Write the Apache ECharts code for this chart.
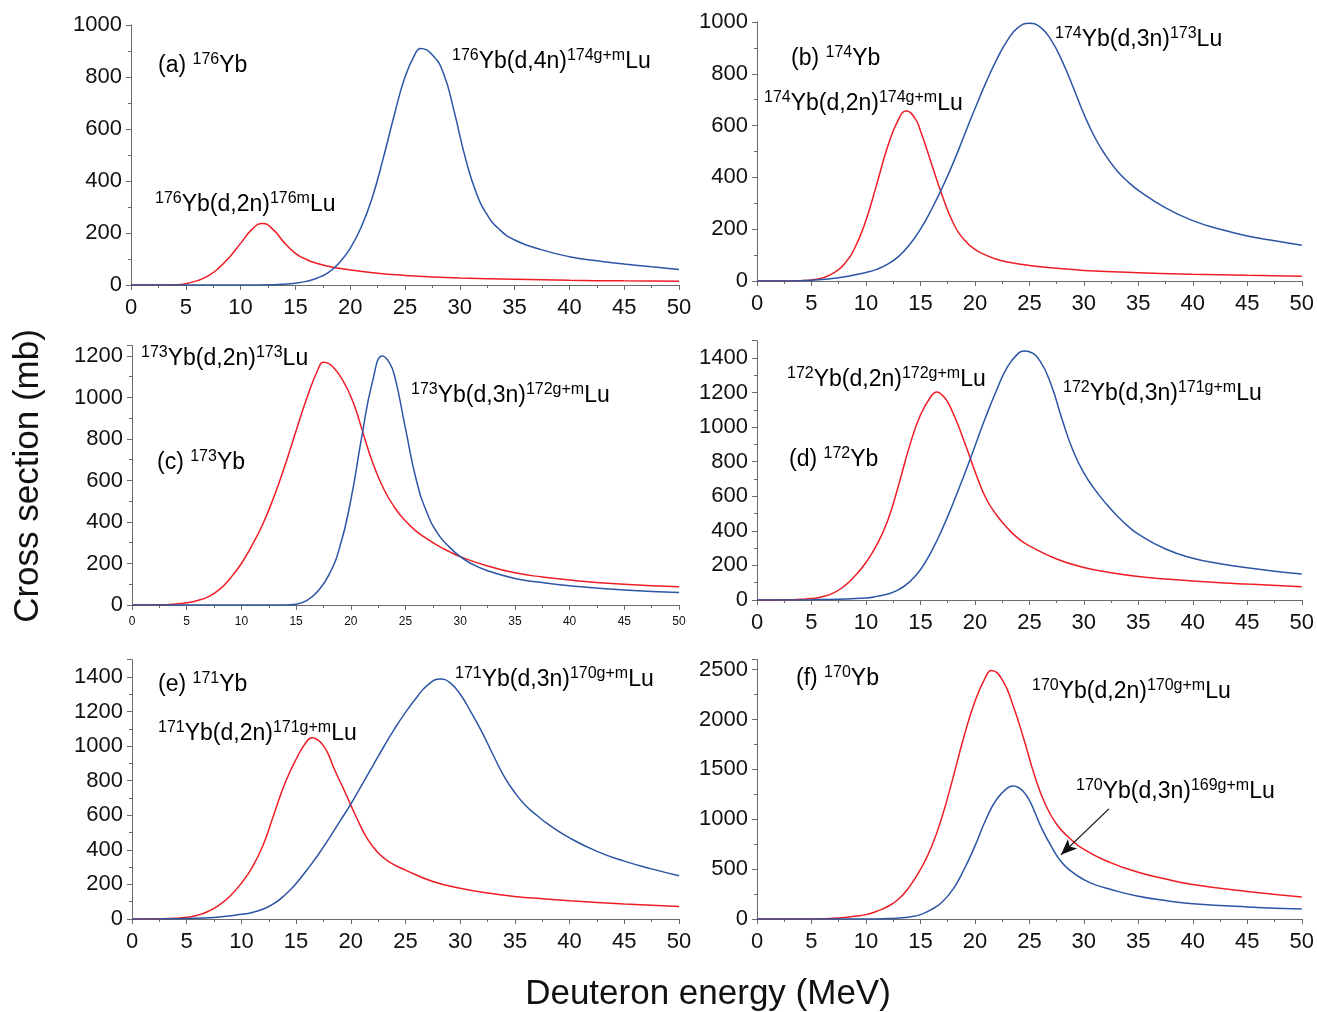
<!DOCTYPE html>
<html>
<head>
<meta charset="utf-8">
<title>Yb(d,xn)Lu excitation functions</title>
<script src="https://cdn.jsdelivr.net/npm/echarts@6/dist/echarts.min.js"></script>
<style>
  html, body { margin: 0; padding: 0; background: #fff; }
  #chart { width: 1317px; height: 1012px; }
</style>
</head>
<body>
<div id="chart"></div>
<script>
// Excitation functions [E (MeV), sigma (mb)] for deuteron reactions on Yb isotopes
const yb176_d2n = [[0,0],[2.5,0],[4,1],[5,5],[6,16],[7,34],[8,65],[9,108],[10,160],[11,212],[12,237],[13,212],[14,162],[15,122],[16,98],[17,83],[18,72],[19,64],[20,58],[22.5,45],[25,37],[27.5,31],[30,27],[35,22],[40,18],[45,16],[50,14]];
const yb176_d4n = [[0,0],[10,0],[13,1],[14,3],[15,7],[16,14],[17,27],[18,48],[19,85],[20,141],[21,222],[22,335],[23,485],[24,650],[25,800],[26,895],[26.4,910],[27.5,885],[28.5,815],[29.5,665],[30.5,490],[31.5,355],[32.5,270],[33.5,218],[35,173],[37.5,135],[40,109],[42.5,93],[45,81],[47.5,70],[50,60]];

const yb174_d2n = [[0,0],[3,0],[4,1],[5,4],[6,12],[7,30],[8,65],[9,130],[10,235],[11,375],[12,520],[13,625],[13.7,656],[14.5,628],[15,580],[16,455],[17,330],[18,225],[19,160],[20,122],[21,100],[22,84],[23,73],[25,60],[27.5,49],[30,41],[35,32],[40,26],[45,22],[50,18]];
const yb174_d3n = [[0,0],[3,0],[5,3],[7.5,13],[10,33],[11,45],[12,65],[13,95],[14,140],[15,200],[16,275],[17,360],[18,455],[19,560],[20,665],[21,765],[22,855],[23,930],[24,980],[25,995],[26,980],[27,930],[28,850],[29,750],[30,645],[31,555],[32,485],[33,428],[34,385],[35,350],[37.5,282],[40,233],[42.5,200],[45,174],[47.5,155],[50,138]];

const yb173_d2n = [[0,0],[2.5,1],[4,5],[5,11],[6,22],[7,40],[8,75],[9,130],[10,200],[11,290],[12,395],[13,525],[14,675],[15,840],[16,1000],[17,1135],[17.5,1170],[18,1163],[18.5,1140],[19,1105],[19.5,1060],[20,1005],[20.5,935],[21,850],[22,685],[23,560],[24,470],[25,405],[26,355],[27,318],[28,285],[29,257],[30,233],[32.5,188],[35,155],[37.5,135],[40,120],[45,100],[50,88]];
const yb173_d3n = [[0,0],[10,0],[14,0],[15,4],[16,22],[17,68],[18,145],[19,280],[20,505],[21,810],[22,1080],[22.9,1200],[23.5,1170],[24,1105],[25,850],[26,600],[27,440],[28,340],[29,280],[30,233],[31,200],[32.5,165],[35,128],[37.5,108],[40,93],[45,72],[50,60]];

const yb172_d2n = [[0,0],[2.5,1],[4,4],[5,8],[6,19],[7,40],[8,80],[9,140],[10,217],[11,320],[12,460],[13,665],[14,890],[15,1070],[16,1180],[16.5,1203],[17,1185],[17.5,1145],[18,1080],[18.5,1005],[19,920],[19.5,835],[20,745],[21,590],[22,490],[23,415],[24,355],[25,313],[27.5,237],[30,188],[32.5,158],[35,136],[37.5,122],[40,110],[45,92],[50,77]];
const yb172_d3n = [[0,0],[5,2],[7.5,5],[10,12],[11,21],[12,35],[13,60],[14,105],[15,175],[16,280],[17,410],[18,560],[19,720],[20,890],[21,1060],[22,1215],[23,1350],[24,1428],[24.5,1441],[25,1436],[26,1380],[27,1245],[28,1045],[29,865],[30,735],[31,640],[32,560],[33,490],[34,430],[35,381],[37.5,295],[40,242],[42.5,210],[45,187],[47.5,167],[50,150]];

const yb171_d2n = [[0,0],[2.5,1],[4,4],[5,10],[6,22],[7,45],[8,82],[9,135],[10,207],[11,300],[12,430],[13,610],[14,788],[15,924],[16,1030],[16.5,1048],[17,1035],[17.5,1003],[18,945],[18.5,866],[19.5,730],[20.5,590],[21.5,465],[22.5,383],[23.5,330],[25,283],[27.5,217],[30,178],[32.5,150],[35,130],[37.5,117],[40,106],[45,87],[50,72]];
const yb171_d3n = [[0,0],[2.5,1],[5,3],[7.5,9],[10,27],[11,38],[12,58],[13,90],[14,140],[15,205],[16,285],[17,370],[18,465],[19,565],[20,665],[21,775],[22,885],[23,995],[24,1100],[25,1195],[26,1280],[27,1352],[28.2,1388],[29,1370],[30,1300],[31,1195],[32,1080],[33,950],[34,827],[35,730],[36,655],[37,600],[38,550],[40,469],[42.5,391],[45,335],[47.5,290],[50,250]];

const yb170_d2n = [[0,0],[5,1],[7.5,10],[9,28],[10,44],[11,78],[12,125],[13,200],[14,325],[15,496],[16,720],[17,1030],[18,1420],[19,1830],[20,2180],[21,2430],[21.5,2490],[22.5,2400],[23.5,2140],[24.5,1800],[25.5,1430],[26.5,1140],[27.5,950],[28.5,830],[30,697],[32.5,563],[35,469],[37.5,400],[40,345],[45,275],[50,221]];
const yb170_d3n = [[0,0],[10,0],[12,4],[13,10],[14,20],[15,44],[16,94],[17,170],[18,300],[19,496],[20,730],[21,995],[22,1200],[23,1315],[23.5,1334],[24,1318],[24.5,1270],[25,1190],[25.5,1070],[26,940],[27,730],[28,563],[29,465],[30,395],[31,345],[32.5,295],[35,228],[37.5,185],[40,154],[45,121],[50,100]];

// Axis ranges and tick spacing per panel (a)…(f)
const xRange = [0, 50];
const xStep = 5;
const yMax = [1000, 1000, 1250, 1500, 1500, 2600];
const yStep = [200, 200, 200, 200, 200, 500];

// Arrow pointing at the (d,3n) curve in panel (f)
const arrowFrom = [32.3, 1104];
const arrowTo = [27.9, 643];

const RED = '#ee1d25';
const BLUE = '#2b55a5';
const AXIS = '#6a6a6a';
const FONT = '"Liberation Sans", Arial, Helvetica, sans-serif';

const panels = [
  { grid: { left: 131, top: 25, width: 548, height: 260 }, red: yb176_d2n, blue: yb176_d4n },
  { grid: { left: 757, top: 22, width: 545, height: 259 }, red: yb174_d2n, blue: yb174_d3n },
  { grid: { left: 132, top: 345.6, width: 547, height: 259.4 }, red: yb173_d2n, blue: yb173_d3n, smallX: true },
  { grid: { left: 757, top: 340.7, width: 545, height: 259.3 }, red: yb172_d2n, blue: yb172_d3n },
  { grid: { left: 132, top: 659.7, width: 547, height: 259.3 }, red: yb171_d2n, blue: yb171_d3n },
  { grid: { left: 757, top: 659.6, width: 545, height: 259.4 }, red: yb170_d2n, blue: yb170_d3n }
];

const plain = v => String(v);

const grid = [], xAxis = [], yAxis = [], series = [];
panels.forEach((p, i) => {
  grid.push(Object.assign({ containLabel: false }, p.grid));
  xAxis.push({
    type: 'value', gridIndex: i, min: xRange[0], max: xRange[1], interval: xStep,
    axisLine: { show: true, onZero: false, lineStyle: { color: AXIS, width: 1 } },
    axisTick: { show: true, inside: false, length: 5, lineStyle: { color: AXIS } },
    minorTick: { show: true, splitNumber: 2, length: 3, lineStyle: { color: AXIS } },
    splitLine: { show: false },
    axisLabel: { color: '#111', fontFamily: FONT, fontSize: p.smallX ? 12 : 22, margin: p.smallX ? 11 : 12, formatter: plain }
  });
  yAxis.push({
    type: 'value', gridIndex: i, min: 0, max: yMax[i], interval: yStep[i],
    axisLine: { show: true, onZero: false, lineStyle: { color: AXIS, width: 1 } },
    axisTick: { show: true, inside: false, length: 5, lineStyle: { color: AXIS } },
    minorTick: { show: true, splitNumber: 2, length: 3, lineStyle: { color: AXIS } },
    splitLine: { show: false },
    axisLabel: {
      color: '#111', fontFamily: FONT, fontSize: 22, margin: 9, formatter: plain,
      showMaxLabel: yMax[i] % yStep[i] === 0
    }
  });
  const lineBase = {
    type: 'line', xAxisIndex: i, yAxisIndex: i, showSymbol: false, symbol: 'none',
    smooth: 0.5, silent: true, animation: false, z: 3
  };
  series.push(Object.assign({}, lineBase, { data: p.red, lineStyle: { color: RED, width: 1.5 }, itemStyle: { color: RED } }));
  const blue = Object.assign({}, lineBase, { data: p.blue, lineStyle: { color: BLUE, width: 1.5 }, itemStyle: { color: BLUE } });
  if (i === 5) {
    blue.markLine = {
      silent: true, animation: false,
      symbol: ['none', 'arrow'], symbolSize: [10, 16],
      label: { show: false },
      lineStyle: { color: '#111', width: 1.3, type: 'solid' },
      data: [[{ coord: arrowFrom }, { coord: arrowTo }]]
    };
  }
  series.push(blue);
});

// Reaction labels with superscript mass numbers
const rich = {
  m: { fontFamily: FONT, fontSize: 23, lineHeight: 29, color: '#111', verticalAlign: 'middle' },
  s: { fontFamily: FONT, fontSize: 16, lineHeight: 29, color: '#111', verticalAlign: 'top' }
};
function reaction(a, ch, b) {
  return '{s|' + a + '}{m|Yb(d,' + ch + ')}{s|' + b + '}{m|Lu}';
}
function target(tag, a) {
  return '{m|(' + tag + ') }{s|' + a + '}{m|Yb}';
}
const labels = [
  [158, 66, target('a', '176')],
  [452, 62, reaction('176', '4n', '174g+m')],
  [155, 205, reaction('176', '2n', '176m')],
  [791, 59, target('b', '174')],
  [1055, 40, reaction('174', '3n', '173')],
  [764, 104, reaction('174', '2n', '174g+m')],
  [141, 359, reaction('173', '2n', '173')],
  [411, 396, reaction('173', '3n', '172g+m')],
  [157, 463, target('c', '173')],
  [787, 380, reaction('172', '2n', '172g+m')],
  [1063, 394, reaction('172', '3n', '171g+m')],
  [789, 460, target('d', '172')],
  [158, 685, target('e', '171')],
  [455, 680, reaction('171', '3n', '170g+m')],
  [158, 734, reaction('171', '2n', '171g+m')],
  [796, 679, target('f', '170')],
  [1032, 692, reaction('170', '2n', '170g+m')],
  [1076, 792, reaction('170', '3n', '169g+m')]
];

const graphic = labels.map(([x, y, t]) => ({
  type: 'text', x: x, y: y, silent: true, z: 10,
  style: { text: t, rich: rich, verticalAlign: 'middle', align: 'left' }
}));
graphic.push({
  type: 'text', x: 708, y: 994, silent: true,
  style: { text: 'Deuteron energy (MeV)', fontFamily: FONT, fontSize: 35, fill: '#111', align: 'center', verticalAlign: 'middle' }
});
graphic.push({
  type: 'text', x: 28, y: 476, rotation: Math.PI / 2, silent: true,
  style: { text: 'Cross section (mb)', fontFamily: FONT, fontSize: 35, fill: '#111', align: 'center', verticalAlign: 'middle' }
});

const chart = echarts.init(document.getElementById('chart'), null, { renderer: 'canvas' });
chart.setOption({
  animation: false,
  backgroundColor: '#fff',
  grid, xAxis, yAxis, series, graphic
});
</script>
</body>
</html>
